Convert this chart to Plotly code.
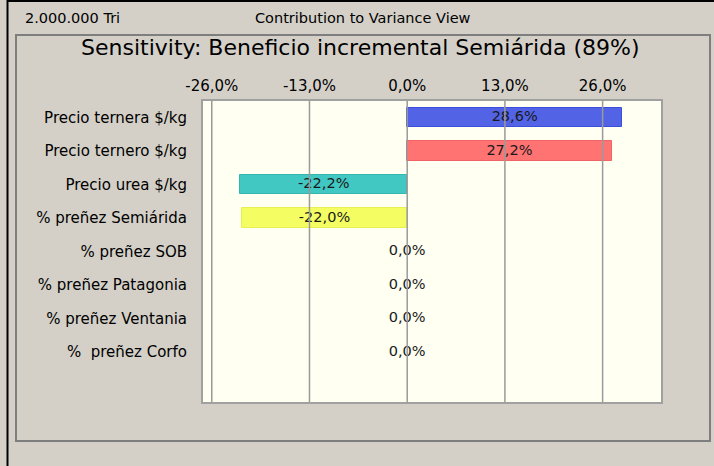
import plotly.graph_objects as go

categories = [
    "Precio ternera $/kg",
    "Precio ternero $/kg",
    "Precio urea $/kg",
    "% preñez Semiárida",
    "% preñez SOB",
    "% preñez Patagonia",
    "% preñez Ventania",
    "%  preñez Corfo",
]
values = [28.6, 27.2, -22.2, -22.0, 0.0, 0.0, 0.0, 0.0]
bar_colors = ["#5263E6", "#FF7373", "#42C8C2", "#F4FE62", "#FFFFFF", "#FFFFFF", "#FFFFFF", "#FFFFFF"]
bar_edges = ["#3B4FDC", "#EE6464", "#33B6B0", "#E6F050", "#FFFFFF", "#FFFFFF", "#FFFFFF", "#FFFFFF"]
tick_vals = [-26, -13, 0, 13, 26]
tick_text = ["-26,0%", "-13,0%", "0,0%", "13,0%", "26,0%"]
title_text = "Sensitivity: Beneficio incremental Semiárida (89%)"
header_left = "2.000.000 Tri"
header_center = "Contribution to Variance View"


def fmt(v):
    return f"{v:.1f}".replace(".", ",") + "%"


W, H = 714, 466
L, R, T, B = 202, 662, 100, 403  # plot area in pixels


def px(x):
    return (x - L) / (R - L)


def py(y):
    return (B - y) / (B - T)


FONT = "DejaVu Sans"

fig = go.Figure()
fig.add_trace(go.Bar(
    x=values, y=categories, orientation="h", width=0.57,
    marker=dict(color=bar_colors, line=dict(color=bar_edges, width=1)),
    hoverinfo="skip", showlegend=False,
))
fig.add_trace(go.Scatter(
    x=[v / 2 for v in values], y=categories, mode="text",
    text=[fmt(v) for v in values], textposition="middle center",
    textfont=dict(family=FONT, size=14.5, color="#1A1A1A"),
    hoverinfo="skip", showlegend=False,
))

shapes = []
# grid lines above everything
for t in tick_vals:
    shapes.append(dict(type="line", xref="x", yref="paper", x0=t, x1=t, y0=0, y1=1,
                       line=dict(color="#9A9A9A", width=1.5), layer="above"))
# plot frame
shapes.append(dict(type="rect", xref="paper", yref="paper", x0=0, x1=1, y0=0, y1=1,
                   line=dict(color="#A0A0A0", width=2), layer="above"))
# inner panel frame
shapes.append(dict(type="rect", xref="paper", yref="paper", x0=px(16), x1=px(710), y0=py(441), y1=py(35),
                   line=dict(color="#7E7E7E", width=2), layer="below"))
# outer black borders
shapes.append(dict(type="line", xref="paper", yref="paper", x0=px(7), x1=px(714), y0=py(1), y1=py(1),
                   line=dict(color="#000000", width=2), layer="below"))
shapes.append(dict(type="line", xref="paper", yref="paper", x0=px(7.5), x1=px(7.5), y0=py(0), y1=py(466),
                   line=dict(color="#000000", width=2), layer="below"))

annotations = [
    dict(text=title_text, xref="paper", yref="paper", x=px(360), y=py(48), showarrow=False,
         xanchor="center", yanchor="middle", font=dict(family=FONT, size=22, color="#000000")),
    dict(text=header_left, xref="paper", yref="paper", x=px(23), y=py(18), showarrow=False,
         xanchor="left", yanchor="middle", font=dict(family=FONT, size=14.5, color="#000000")),
    dict(text=header_center, xref="paper", yref="paper", x=px(363), y=py(18), showarrow=False,
         xanchor="center", yanchor="middle", font=dict(family=FONT, size=14.5, color="#000000")),
]

fig.update_layout(
    width=W, height=H,
    margin=dict(l=L, r=W - R, t=T, b=H - B, pad=0),
    paper_bgcolor="#D4D0C8",
    plot_bgcolor="#FFFFF2",
    shapes=shapes,
    annotations=annotations,
    bargap=0,
    xaxis=dict(
        range=[-27.3, 33.9], side="top", tickmode="array", tickvals=tick_vals, ticktext=tick_text,
        showgrid=False, zeroline=False, showline=False, ticks="",
        tickfont=dict(family=FONT, size=15, color="#000000"), ticklabelstandoff=5,
        fixedrange=True,
    ),
    yaxis=dict(
        type="category", categoryorder="array", categoryarray=categories,
        range=[8.52, -0.52], showgrid=False, zeroline=False, showline=False, ticks="",
        tickfont=dict(family=FONT, size=15, color="#000000"), ticklabelstandoff=14,
        fixedrange=True,
    ),
)

fig.write_html("out.html", config={"displayModeBar": False},
               post_script="document.body.style.margin='0px';")
